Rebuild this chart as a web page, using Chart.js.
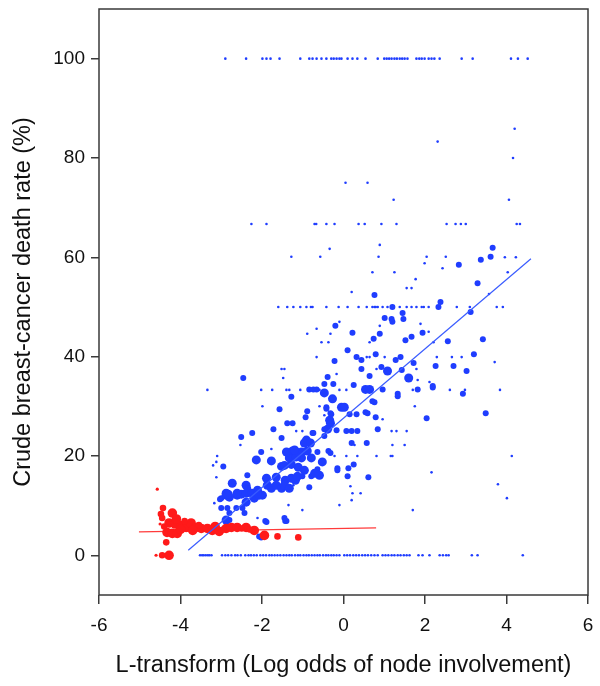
<!DOCTYPE html>
<html>
<head>
<meta charset="utf-8">
<script src="https://cdn.jsdelivr.net/npm/chart.js@4.4.1/dist/chart.umd.min.js"></script>
<style>
  html, body { margin: 0; padding: 0; background: #fff; }
  #wrap { width: 600px; height: 686px; }
</style>
</head>
<body>
<div id="wrap"><canvas id="c"></canvas></div>
<script>
// axis ticks
const xTicks = [-6, -4, -2, 0, 2, 4, 6];
const yTicks = [0, 20, 40, 60, 80, 100];

// blue studies sitting on the 0%, 33%, 50%, 67% and 100% rows (small studies)
const blueZero = [-3.52,-3.47,-3.43,-3.38,-3.33,-3.29,-3.24,-2.98,-2.9,-2.83,-2.75,-2.66,-2.6,-2.52,-2.41,-2.33,-2.27,-2.2,-2.13,-2.04,-1.97,-1.9,-1.82,-1.76,-1.69,-1.62,-1.55,-1.47,-1.4,-1.33,-1.27,-1.19,-1.12,-1.06,-0.98,-0.91,-0.85,-0.78,-0.71,-0.64,-0.58,-0.5,-0.43,-0.37,-0.3,-0.24,-0.17,-0.1,0.02,0.09,0.16,0.24,0.31,0.38,0.46,0.53,0.6,0.68,0.76,0.84,0.96,1.03,1.1,1.18,1.25,1.33,1.4,1.48,1.55,1.62,1.84,1.94,2.11,2.36,2.44,2.52,2.58,3.15,3.29,4.4];
const blueThird = [-3.34,-2.02,-1.75,-1.4,-1.33,-1.06,-0.59,-0.1,0.07,1.7,2.61,2.98,3.84];
const blueHalf = [-1.6,-1.38,-1.23,-1.06,-0.91,-0.8,-0.76,-0.42,-0.12,0.1,0.37,0.57,0.71,0.76,0.79,0.84,0.96,1.08,1.38,1.55,1.67,1.79,1.92,1.97,2.09,2.78,3.1,3.76,3.91];
const blueTwoThirds = [-2.26,-1.89,-0.71,-0.67,-0.42,-0.22,0.37,0.52,0.93,1.3,2.53,2.75,2.88,3.0,4.25,4.33];
const blueHundred = [-2.9,-2.39,-1.99,-1.89,-1.79,-1.57,-1.06,-0.84,-0.76,-0.66,-0.54,-0.42,-0.3,-0.24,-0.17,-0.1,-0.05,0.1,0.22,0.34,0.54,0.84,1.0,1.06,1.12,1.18,1.25,1.31,1.38,1.44,1.5,1.57,1.79,1.86,1.92,1.99,2.09,2.16,2.23,2.36,2.9,3.17,4.11,4.28,4.52];

// other blue studies: [L-transform, death rate %, size class 1..3]
const blueOther = [
  [2.31,83.3,1],[4.2,85.9,1],[4.16,80,1],[0.05,75,1],[0.59,75,1],[1.23,71.6,1],[4.06,71.6,1],[0.89,62.5,1],[-0.34,61.7,1],[3.66,61.9,2],
  [-1.28,60.1,1],[-0.57,60.1,1],[0.86,60.1,1],[2.04,60.1,1],[2.51,60.1,1],[1.99,58.8,1],[2.43,57.8,1],[2.83,58.5,2],[3.37,59.5,2],[3.61,60.1,2],
  [3.96,60,1],[4.23,60,1],[4.03,57,1],[0.71,57,1],[1.25,57,1],[1.77,55.6,1],[1.55,53.8,1],[1.67,53.8,1],[0.2,53,1],[0.76,52.4,2],
  [3.29,54.8,2],[3.57,52.6,1],[2.38,51,2],[2.33,50,2],[1.2,50,2],[3.12,49,2],
  [1.01,47.8,2],[1.18,47.6,2],[1.2,47,2],[1.45,48.8,2],[1.47,47.6,2],[-0.1,47,1],[-0.2,46.2,2],[1.89,46.6,1],[0.89,46.2,1],[-0.66,45.6,1],
  [-0.89,44.6,1],[0.22,44.8,2],[0.89,44.6,2],[0.74,43.6,2],[-0.32,44.6,1],[1.94,44.8,2],[1.67,44,2],[1.52,43.3,2],[2.09,45,1],[-0.54,42.9,1],
  [-0.37,42.9,1],[0.64,42.9,1],[2.21,42.9,1],[2.56,43.1,2],[3.42,43.5,2],
  [0.1,41.3,2],[0.79,40.5,2],[0.32,39.9,2],[0.44,39.3,2],[0.57,39.9,1],[0.64,39.9,1],[1.01,39.9,1],[1.4,39.9,2],[1.28,39.3,2],[-0.66,39.9,1],
  [-0.22,39.1,2],[1.72,38.7,2],[2.29,39.9,1],[2.66,39.9,1],[2.9,39.9,1],[3.2,40.5,2],[3.71,38.9,1],
  [0.44,37.5,2],[0.93,37.9,2],[1.08,37.1,3],[0.81,37.5,1],[1.43,37.3,2],[1.79,37.5,1],[2.26,38.1,2],[2.7,38.1,2],[3.02,37.1,2],[-1.52,37.5,1],
  [-1.45,37.5,1],[-1.48,35.7,1],[-2.46,35.7,2],[-0.39,35.9,2],[-0.17,36.5,1],[0.64,36.1,2],[1.6,35.7,3],[1.82,35.3,1],[2.11,34.9,1],[-0.47,34.5,2],
  [-0.25,34.5,2],[0.25,34.3,2],[2.19,34.1,2],
  [-0.84,33.4,2],[-0.66,33.4,2],[0.54,33.4,3],[0.64,33.4,3],[0.96,33.4,2],[1.82,33.4,2],[-0.74,33.4,2],[1.33,32.5,2],[1.33,32,2],[2.19,33.8,2],
  [2.93,32.5,2],[1.75,30,1],[-1.28,31.9,2],[-0.27,31.5,3],[-0.47,32.7,3],[-0.05,29.8,3],[0.02,29.8,3],[-0.42,29.8,2],[-0.59,30,1],[-1.99,30,1],
  [-1.57,29.4,2],[-0.89,29,2],[-0.32,28.6,2],[0.15,28.4,2],[0.32,28.4,2],[0.54,28.8,2],[0.59,28.6,2],[0.76,30.8,2],[0.71,31,2],[0.79,27.8,2],
  [0.96,27.4,1],[2.04,27.6,2],[3.49,28.6,2],[-0.93,27.8,2],[-0.47,28.2,1],[-0.32,26.6,3],[-0.34,27.2,3],[-1.38,26.6,2],[-1.25,26.6,2],[-0.39,25.4,3],
  [-0.17,25.2,2],[0.07,25,2],[0.2,25,2],[0.34,25,2],[0.84,25.4,2],[1.18,25,1],[1.3,25,1],[1.55,25,1],[-1.72,25.4,2],[-2.24,24.6,2],
  [-1.16,25,1],[-1.01,25,1],[-0.74,24.6,2],[-2.51,23.8,2],[-1.52,23.6,2],[-0.47,24,2],[-0.91,23.2,3],[-0.96,22.6,3],[-0.81,22.6,3],[0.2,22.6,2],
  [0.57,22.6,2],[0.27,22.2,1],[1.2,22.2,1],[1.5,22.2,1],[-2.53,22.2,1],[-1.77,21.4,1],
  [-0.42,29.5,2],[-0.3,28.4,2],[-0.34,26.6,2],[-0.47,25.4,2],
  [-2.02,20.8,2],[-1.35,20.6,3],[-1.25,21,3],[-1.16,20.8,3],[-1.03,20.8,3],[-0.89,21,3],[-0.64,20.8,2],[-0.37,21,2],[-0.32,20.6,2],[-0.22,20,1],
  [0.07,20,1],[0.34,20,1],[0.81,20,1],[1.16,20,1],[1.2,20,1],[4.13,20,1],[-3.1,20,1],[-3.12,18.8,1],[-3.2,18.1,1],[-2.95,17.9,2],
  [-2.14,19.2,3],[-1.77,19,3],[-1.52,17.9,3],[-1.45,18.1,3],[-1.28,18.3,3],[-1.11,17.7,3],[-1.33,19.6,3],[-1.03,19.6,3],[-0.79,19.6,3],[-0.52,18.8,3],
  [-0.64,17.3,2],[-0.15,17.5,2],[0.12,17.5,2],[0.25,18.3,2],[-0.15,17.1,2],[0.1,15.9,2],[-0.59,16.1,3],[2.16,16.7,1],[3.79,14.3,1],[4.01,11.5,1],
  [-3.12,15.7,1],[-2.36,16.1,2],[-1.89,15.5,3],[-1.65,15.7,3],[-1.43,15.1,3],[-1.28,15.5,3],[-1.18,15.1,3],[-1.13,15.9,3],[-1.01,15.9,2],[-0.79,15.9,2],
  [-1.23,14.1,1],[-0.84,13.7,2],[0.61,15.7,2],[0.42,12.5,1],[0.22,12.5,1],[0.2,11.1,1],[0.17,13.9,1],
  [-2.73,14.5,3],[-2.39,14.1,3],[-2.61,12.1,3],[-2.51,12.3,3],[-2.88,12.1,3],[-2.8,11.7,3],[-2.34,13.5,2],[-2.11,13.1,3],[-1.99,12.1,3],[-1.87,14.1,3],
  [-1.77,13.5,3],[-1.65,14.1,3],[-1.52,13.5,3],[-1.45,14.1,3],[-1.33,13.5,3],[-3.0,11.5,2],
  [-2.88,12.5,3],[-2.61,12.5,3],[-2.39,12.5,3],[-2.24,12.5,3],[-2.07,12.1,3],[-3.0,9.5,2],[-2.85,9.5,2],[-2.63,9.5,2],[-2.48,9.5,2],[-2.8,8.5,2],
  [-2.43,8.5,2],[-2.88,7.1,3],[-2.8,7.1,2],[-1.89,6.7,2],[-1.4,6.9,2],[-1.92,6.9,2],[-1.43,6.9,2],[-2.11,7.5,1],[-1.45,7.5,2],[-3.17,10.5,1],
  [-1.35,10.1,1],[-1.01,9.1,1],[-0.1,10.1,1],[1.7,9.1,1],[-2.02,3.6,2],[-2.07,3.8,2],
  [-2.39,10.7,3],[-2.19,11.5,3],[-2.11,12.5,3],[-3.03,11.3,2],[-2.83,12.3,3],
  [-1.16,19.8,3],[-0.96,17.1,3],[-0.71,16.5,3],[-1.4,20.8,3],[-1.2,21.2,3],[-0.76,24.6,2]
];

// red studies: [L-transform, death rate %, size class 1..3]
const redPts = [
  [-4.57,13.3,1],[-4.43,9.5,2],[-4.2,8.5,3],[-4.48,8.3,2],[-4.45,7.5,2],[-4.5,6.3,1],[-4.28,6.5,3],[-4.13,6.3,3],[-3.98,6.0,3],[-3.86,5.6,3],
  [-3.74,6.5,3],[-3.62,5.6,3],[-3.49,5.4,3],[-3.34,5.4,3],[-3.22,5.0,3],[-3.05,4.8,3],[-2.88,5.4,3],[-2.75,5.6,3],[-2.61,5.6,3],[-2.39,5.6,3],
  [-2.19,5.0,3],[-4.33,4.6,3],[-4.2,4.4,3],[-4.08,4.4,3],[-4.35,2.6,2],[-4.28,0,3],[-4.45,0,2],[-4.6,0,1],[-1.94,4.0,3],[-1.62,3.8,2],
  [-1.11,3.6,2],[-4.1,7.3,3],[-3.9,6.9,2],[-3.7,5.0,3],[-3.55,6.1,2],[-3.15,5.8,3],[-2.95,5.2,2],[-2.5,5.4,2],[-2.3,5.2,2],[-4.4,5.8,2],
  [-4.0,5.2,3]
];

// fitted lines (end points)
const blueFit = [[-3.81, 1.0], [4.6, 59.7]];
const redFit = [[-5.02, 4.7], [0.8, 5.5]];

const BLUE = '#1f3dff';
const RED = '#ff1a1a';
const radiusFor = w => [0, 1.3, 3, 4.5][w];

const rowPts = (xs, y) => xs.map(x => ({ x, y, w: 1 }));
const bluePoints = [
  ...rowPts(blueZero, 0),
  ...rowPts(blueThird, 33.3),
  ...rowPts(blueHalf, 50),
  ...rowPts(blueTwoThirds, 66.7),
  ...rowPts(blueHundred, 100),
  ...blueOther.map(([x, y, w]) => ({ x, y, w })),
];
const redPoints = redPts.map(([x, y, w]) => ({ x, y, w }));
const toXY = pts => pts.map(([x, y]) => ({ x, y }));

const frame = {
  id: 'frame',
  afterDatasetsDraw(chart) {
    const { ctx, chartArea: a } = chart;
    ctx.save();
    ctx.strokeStyle = '#3a3a3a';
    ctx.lineWidth = 1.5;
    ctx.strokeRect(a.left, a.top, a.right - a.left, a.bottom - a.top);
    ctx.restore();
  },
};

const FONT = "'Liberation Sans', Arial, sans-serif";

new Chart(document.getElementById('c'), {
  type: 'scatter',
  data: {
    datasets: [
      { data: bluePoints, backgroundColor: BLUE, borderWidth: 0, order: 4,
        pointRadius: c => radiusFor(c.raw.w) },
      { type: 'line', data: toXY(redFit), borderColor: '#ff3b3b', borderWidth: 1.2,
        pointRadius: 0, fill: false, order: 3 },
      { data: redPoints, backgroundColor: RED, borderWidth: 0, order: 2,
        pointRadius: c => radiusFor(c.raw.w) + 0.3 },
      { type: 'line', data: toXY(blueFit), borderColor: '#3a5cff', borderWidth: 1.2,
        pointRadius: 0, fill: false, order: 1 },
    ],
  },
  options: {
    responsive: true,
    maintainAspectRatio: false,
    animation: false,
    layout: { padding: { top: 9, right: 12, left: 0, bottom: 0 } },
    plugins: { legend: { display: false }, tooltip: { enabled: false } },
    elements: { point: { hoverRadius: 0 } },
    scales: {
      x: {
        type: 'linear', min: -6, max: 6,
        afterBuildTicks: s => { s.ticks = xTicks.map(v => ({ value: v })); },
        afterFit: s => { s.height = 91; s.paddingLeft = 0; s.paddingRight = 0; },
        border: { display: false },
        grid: { drawOnChartArea: false, drawTicks: true, tickLength: 9, color: '#3a3a3a', lineWidth: 1.5 },
        ticks: { color: '#111', padding: 10, font: { family: FONT, size: 19 } },
        title: { display: true, text: 'L-transform (Log odds of node involvement)', color: '#111',
          padding: { top: 6, bottom: 6 }, font: { family: FONT, size: 23.5 } },
      },
      y: {
        type: 'linear', min: -8, max: 110,
        afterBuildTicks: s => { s.ticks = yTicks.map(v => ({ value: v })); },
        afterFit: s => { s.width = 99; s.paddingTop = 0; s.paddingBottom = 0; },
        border: { display: false },
        grid: { drawOnChartArea: false, drawTicks: true, tickLength: 8, color: '#3a3a3a', lineWidth: 1.5 },
        ticks: { color: '#111', padding: 6, font: { family: FONT, size: 19 } },
        title: { display: true, text: 'Crude breast-cancer death rate (%)', color: '#111',
          padding: { top: 9, bottom: 9 }, font: { family: FONT, size: 23.5 } },
      },
    },
  },
  plugins: [frame],
});
</script>
</body>
</html>
